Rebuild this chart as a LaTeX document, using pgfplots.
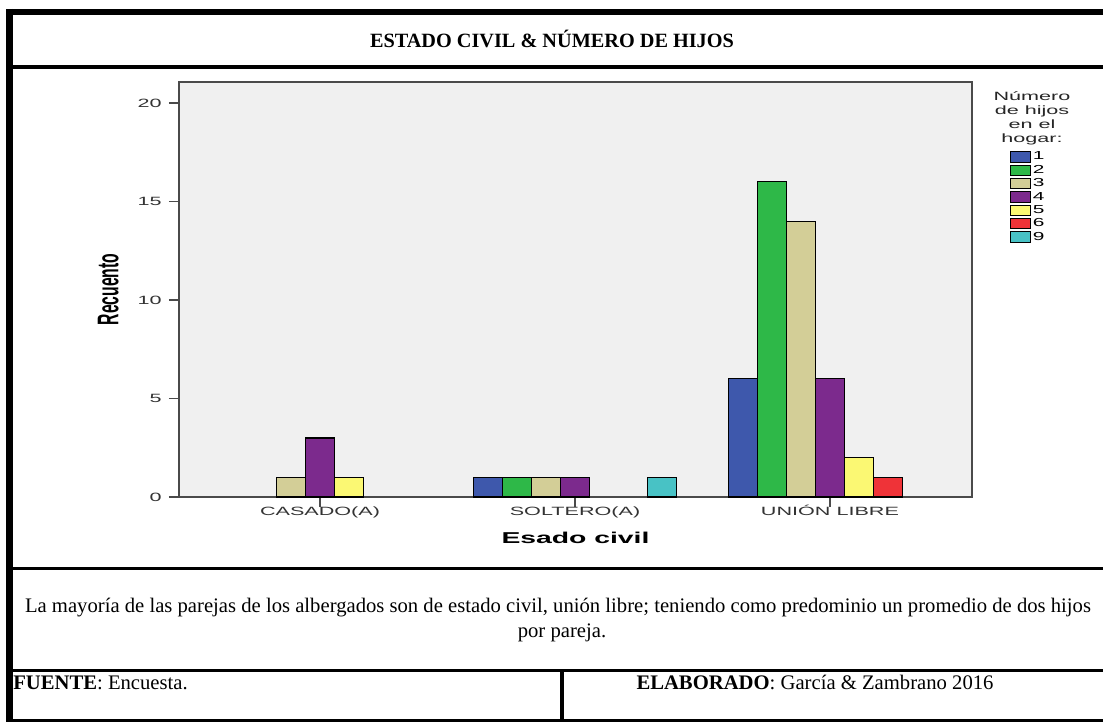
\documentclass[border=0pt]{standalone}
\usepackage{pgfplots}
\pgfplotsset{compat=1.18}
\usepackage{fontspec}
\setmainfont{Liberation Serif}
\newfontfamily\chartfont[FakeStretch=1.8]{Liberation Sans}
\newfontfamily\chartplain{Liberation Sans}

\definecolor{c1}{HTML}{3E58AC}
\definecolor{c2}{HTML}{2EB848}
\definecolor{c3}{HTML}{D3CE97}
\definecolor{c4}{HTML}{7C2A8D}
\definecolor{c5}{HTML}{FBF873}
\definecolor{c6}{HTML}{EF3338}
\definecolor{c9}{HTML}{48C2C5}
\definecolor{plotbg}{HTML}{F0F0F0}
\definecolor{axgray}{HTML}{4A4A4A}

\pgfplotsset{
  mybar/.style={draw=black, line width=0.9pt,
    legend image code/.code={\draw[##1, draw=black, line width=0.7pt] (0pt,-3.9pt) rectangle (15pt,3.9pt);}},
}

\begin{document}
\begin{tikzpicture}[x=0.75pt,y=0.75pt]
\useasboundingbox (0,0) rectangle (1103,722);

% table frame (y measured upward: 722 - pixel row)
\draw[line width=4.5pt] (6,710) -- (1103,710);
\draw[line width=5.25pt] (9.5,713) -- (9.5,0);
\draw[line width=2.6pt] (9.5,655) -- (1103,655);
\draw[line width=2.25pt] (9.5,153.5) -- (1103,153.5);
\draw[line width=2.25pt] (9.5,51.5) -- (1103,51.5);
\draw[line width=2.6pt] (562,51.5) -- (562,0);
\draw[line width=2.6pt] (6,1.5) -- (1103,1.5);

\node[font=\bfseries\fontsize{15.2}{18}\selectfont] at (552,683) {ESTADO CIVIL \& NÚMERO DE HIJOS};
\node[anchor=base, font=\fontsize{15.5}{18}\selectfont, inner sep=0pt] at (558,110)
  {La mayoría de las parejas de los albergados son de estado civil, unión libre; teniendo como predominio un promedio de dos hijos};
\node[anchor=base, font=\fontsize{15.5}{18}\selectfont, inner sep=0pt] at (562,85) {por pareja.};
\node[anchor=base west, font=\fontsize{15.5}{18}\selectfont, inner sep=0pt] at (13,33) {\textbf{FUENTE}: Encuesta.};
\node[anchor=base, font=\fontsize{15.5}{18}\selectfont, inner sep=0pt] at (815,33) {\textbf{ELABORADO}: García \& Zambrano 2016};

\begin{axis}[
    at={(134.25pt,168.75pt)}, anchor=south west,
    scale only axis, width=594.75pt, height=311.25pt,
    xmin=-0.553, xmax=2.557, ymin=0, ymax=21.07,
    ybar=0pt, bar width=21.75pt,
    xtick={0,1,2},
    xticklabels={CASADO(A),SOLTERO(A),UNIÓN LIBRE},
    ytick={0,5,10,15,20},
    tick align=outside, xtick pos=bottom, ytick pos=left,
    major tick length=7.5pt,
    tick style={axgray, line width=1pt},
    axis line style={axgray, line width=1.2pt},
    axis background/.style={fill=plotbg},
    /pgf/number format/assume math mode=true,
    tick label style={font=\chartfont\fontsize{9}{10}\selectfont, text=black!80},
    xticklabel style={anchor=base, yshift=-6.5pt},
    yticklabel style={xshift=-2pt},
    xlabel={\chartfont\bfseries\fontsize{11.8}{14}\selectfont Esado civil},
    xlabel style={at={(axis description cs:0.5,0)}, anchor=base, yshift=-34.5pt},
    ylabel={\scalebox{1}[1.9]{\chartplain\bfseries\fontsize{11.8}{14}\selectfont Recuento}},
    ylabel style={at={(axis description cs:0,0.5)}, anchor=center, yshift=53pt},
    legend style={at={(axis description cs:1,1)}, anchor=north west,
      xshift=28.5pt, yshift=-51pt, draw=none, fill=none, inner sep=0pt,
      row sep=0.1pt, font=\chartfont\fontsize{8.7}{9}\selectfont,
      nodes={inner sep=1.2pt}},
    legend cell align=left,
]
\addplot[mybar, fill=c1] coordinates {(1,1) (2,6)};
\addlegendentry{1}
\addplot[mybar, fill=c2] coordinates {(1,1) (2,16)};
\addlegendentry{2}
\addplot[mybar, fill=c3] coordinates {(0,1) (1,1) (2,14)};
\addlegendentry{3}
\addplot[mybar, fill=c4] coordinates {(0,3) (1,1) (2,6)};
\addlegendentry{4}
\addplot[mybar, fill=c5] coordinates {(0,1) (2,2)};
\addlegendentry{5}
\addplot[mybar, fill=c6] coordinates {(2,1)};
\addlegendentry{6}
\addplot[mybar, fill=c9] coordinates {(1,1)};
\addlegendentry{9}
\end{axis}

\node[align=center, font=\chartfont\fontsize{9}{10.5}\selectfont, text=black!85] at (1032,604)
  {Número\\de hijos\\en el\\hogar:};
\end{tikzpicture}
\end{document}
